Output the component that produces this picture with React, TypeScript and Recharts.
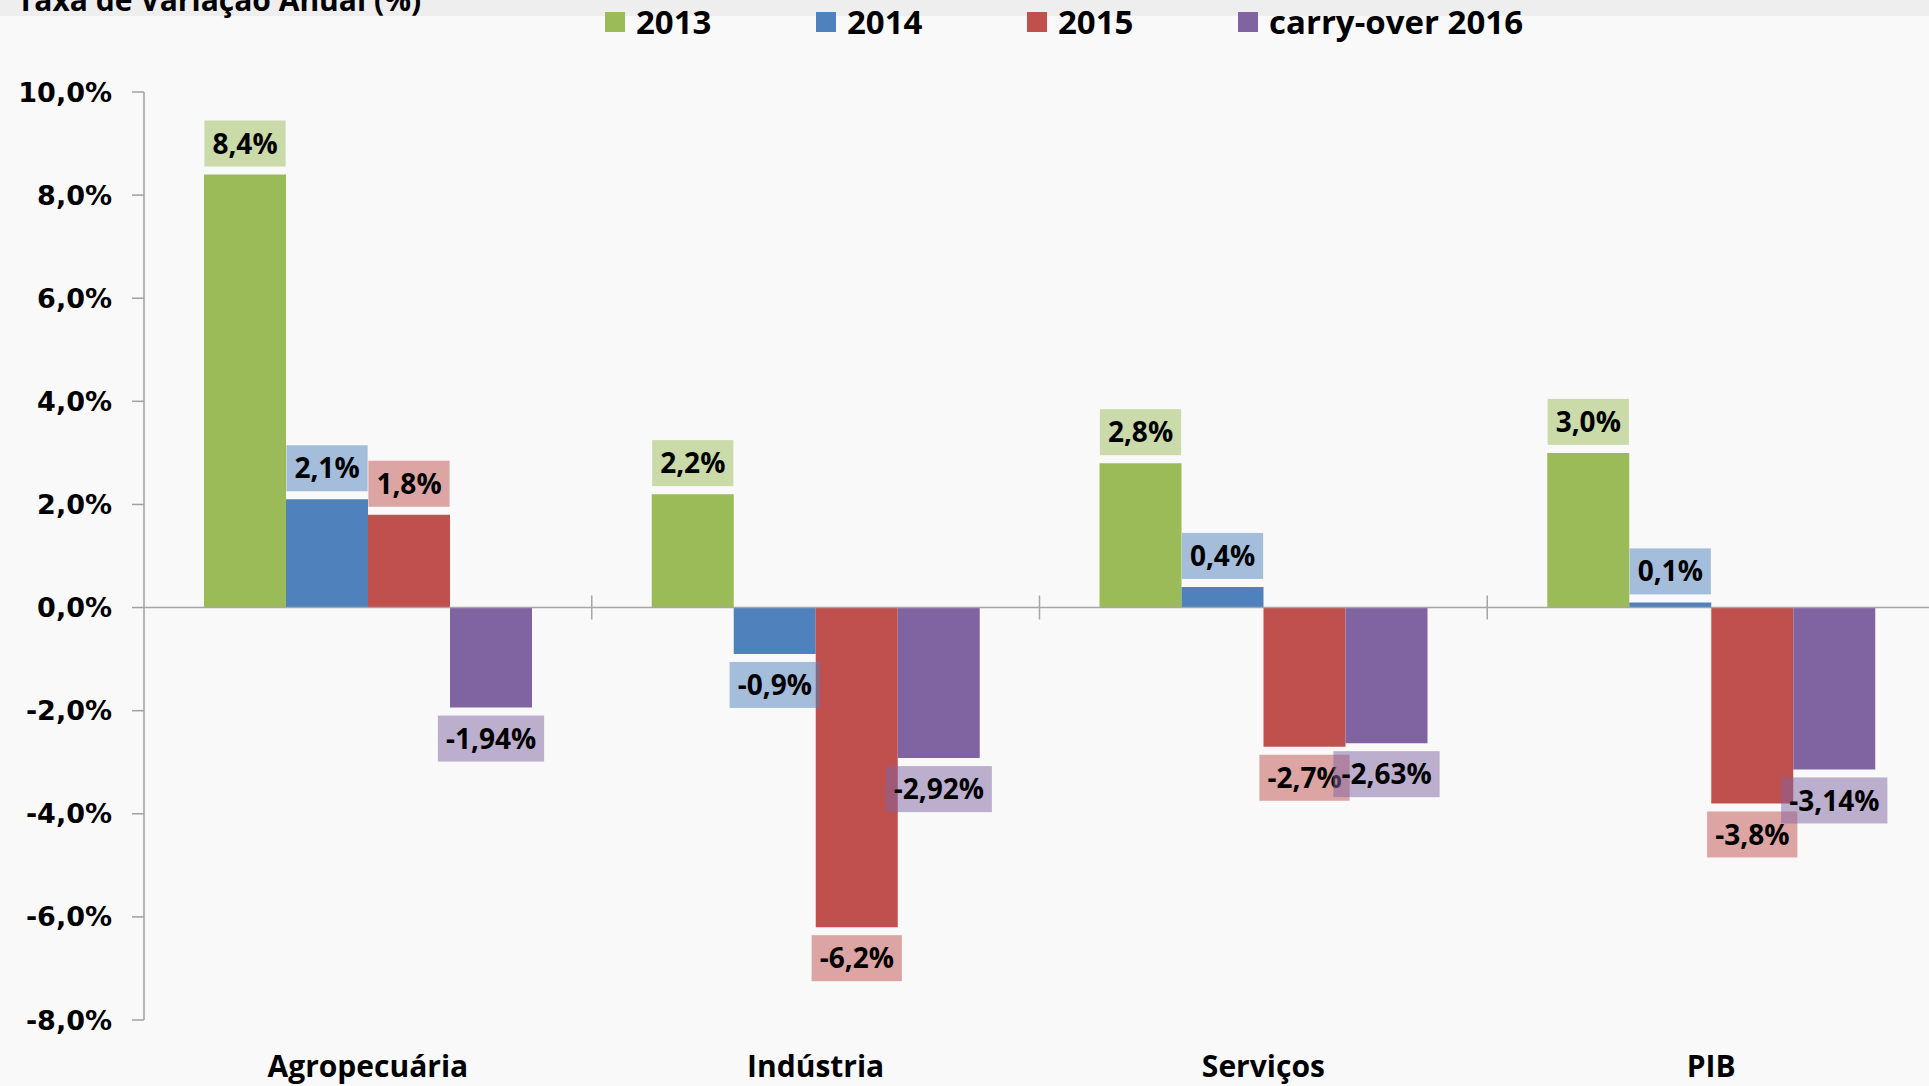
import React from 'react';
import { BarChart, Bar, XAxis, YAxis, ReferenceLine, LabelList } from 'recharts';

const categories = ['Agropecuária', 'Indústria', 'Serviços', 'PIB'];
const values2013 = [8.4, 2.2, 2.8, 3.0];
const values2014 = [2.1, -0.9, 0.4, 0.1];
const values2015 = [1.8, -6.2, -2.7, -3.8];
const valuesCarryOver = [-1.94, -2.92, -2.63, -3.14];
const yTicks = [-8, -6, -4, -2, 0, 2, 4, 6, 8, 10];

const seriesList = [
  { key: 's2013', name: '2013', values: values2013, color: '#9bbb59', decimals: 1 },
  { key: 's2014', name: '2014', values: values2014, color: '#4f81bd', decimals: 1 },
  { key: 's2015', name: '2015', values: values2015, color: '#c0504d', decimals: 1 },
  { key: 'carry', name: 'carry-over 2016', values: valuesCarryOver, color: '#8064a2', decimals: 2 },
];

const data = categories.map((cat, i) => {
  const row: any = { cat };
  seriesList.forEach(s => { row[s.key] = s.values[i]; });
  return row;
});

const fmt = (v: number, d: number) => v.toFixed(d).replace('.', ',') + '%';

const LABEL_FONT = "700 28px 'Open Sans'";
let ctx: CanvasRenderingContext2D | null = null;
const measure = (text: string) => {
  if (!ctx) ctx = document.createElement('canvas').getContext('2d');
  if (!ctx) return text.length * 16;
  ctx.font = LABEL_FONT;
  return ctx.measureText(text).width;
};

const makeLabel = (color: string, decimals: number) => (props: any) => {
  const x = Number(props.x), y = Number(props.y);
  const width = Number(props.width), height = Number(props.height);
  const value = Number(props.value);
  const text = fmt(value, decimals);
  const w = measure(text) + 16;
  const h = 46;
  const cx = x + width / 2;
  const end = value >= 0 ? Math.min(y, y + height) : Math.max(y, y + height);
  const top = value >= 0 ? end - 8 - h : end + 8;
  return (
    <g>
      <rect x={cx - w / 2} y={top} width={w} height={h} fill={color} fillOpacity={0.5} />
      <text x={cx} y={top + h / 2} dy="0.36em" textAnchor="middle" fill="#000"
        style={{ font: LABEL_FONT }}>{text}</text>
    </g>
  );
};

const ZeroLine = (props: any) => {
  const { x1, y1, x2, y2 } = props;
  const band = (x2 - x1) / categories.length;
  return (
    <g>
      <line x1={x1} y1={y1} x2={x2} y2={y2} stroke="#a6a6a6" strokeWidth={1.5} />
      {categories.slice(1).map((_, i) => (
        <line key={i} x1={x1 + band * (i + 1)} x2={x1 + band * (i + 1)} y1={y1 - 12} y2={y1 + 12}
          stroke="#a6a6a6" strokeWidth={1.5} />
      ))}
    </g>
  );
};

export default function App() {
  return (
    <div style={{ position: 'absolute', left: 0, top: 0, width: 1929, height: 1086, overflow: 'hidden', background: '#f9f9f9' }}>
      <div style={{ position: 'absolute', left: 0, top: 0, width: 1929, height: 16, background: '#eeeeee' }} />
      <div style={{ position: 'absolute', left: 0, top: 0 }}>
        <BarChart width={1935} height={1086} data={data} margin={{ top: 92, right: 0, bottom: 0, left: 0 }}
          barGap={0} barSize={82}>
          <XAxis dataKey="cat" height={66} axisLine={false} tickLine={false} tickSize={0} tickMargin={36}
            interval={0} tick={{ fill: '#000', fontSize: 30, fontWeight: 700, fontFamily: 'Open Sans' }} />
          <YAxis width={144} domain={[-8, 10]} ticks={yTicks} interval={0} tickSize={12} tickMargin={20}
            axisLine={{ stroke: '#a0a0a0', strokeWidth: 1.5 }} tickLine={{ stroke: '#a0a0a0', strokeWidth: 1.5 }}
            tickFormatter={(v: number) => fmt(v, 1)}
            tick={{ fill: '#000', fontSize: 27, fontWeight: 700, fontFamily: 'DejaVu Sans' }} />
          <ReferenceLine y={0} shape={ZeroLine} />
          {seriesList.map(s => (
            <Bar key={s.key} dataKey={s.key} name={s.name} fill={s.color} isAnimationActive={false}>
              <LabelList dataKey={s.key} content={makeLabel(s.color, s.decimals)} />
            </Bar>
          ))}
        </BarChart>
      </div>
      <svg width={1929} height={1086} style={{ position: 'absolute', left: 0, top: 0, pointerEvents: 'none' }}>
        <text x={17} y={11} fill="#000" style={{ font: "700 30px 'Open Sans'" }}>Taxa de Variação Anual (%)</text>
        {seriesList.map((s, i) => (
          <g key={s.key}>
            <rect x={605 + i * 211} y={12} width={20} height={20} fill={s.color} />
            <text x={636 + i * 211} y={34} fill="#000" style={{ font: "700 33px 'Open Sans'" }}>{s.name}</text>
          </g>
        ))}
      </svg>
    </div>
  );
}
